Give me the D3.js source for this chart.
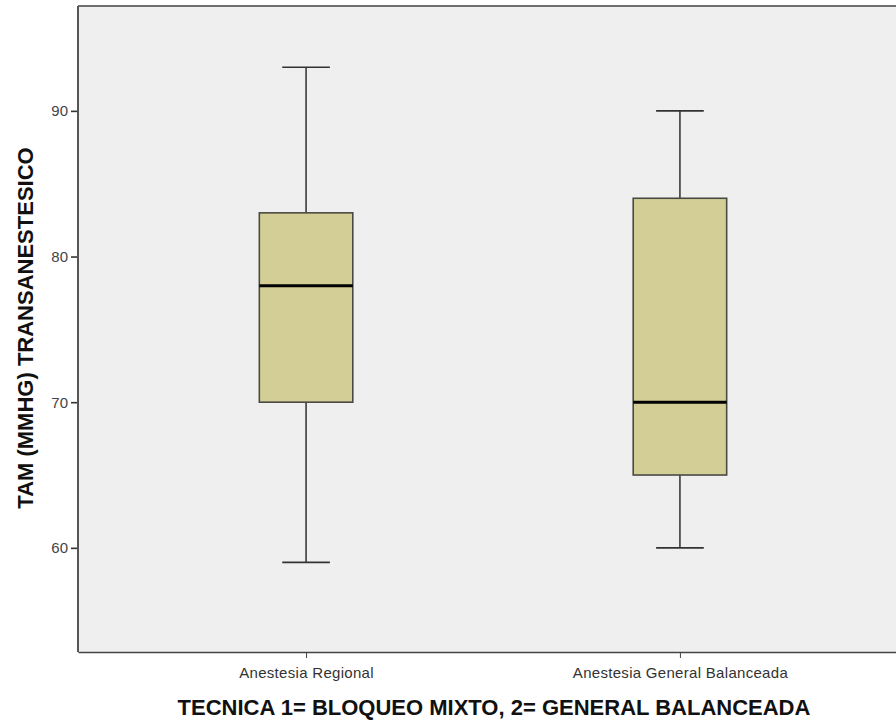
<!DOCTYPE html>
<html>
<head>
<meta charset="utf-8">
<script src="https://cdn.jsdelivr.net/npm/d3@7"></script>
<style>
  html, body { margin: 0; padding: 0; background: #ffffff; }
  svg { display: block; font-family: Arial, "Liberation Sans", sans-serif; }
</style>
</head>
<body>
<svg id="chart" width="896" height="724"></svg>
<script>
// Box plot summaries per technique
const categories = ["Anestesia Regional", "Anestesia General Balanceada"];
const whiskerLow  = [59, 60];
const q1          = [70, 65];
const median      = [78, 70];
const q3          = [83, 84];
const whiskerHigh = [93, 90];
const yTicks      = [60, 70, 80, 90];

const svg = d3.select("#chart");
const plot = { left: 78, right: 908, top: 6, bottom: 652 };

const y = d3.scaleLinear().domain([52.85, 97.2]).range([plot.bottom, plot.top]);
const x = d3.scalePoint().domain(categories).range([plot.left, plot.right]).padding(0.61);
const boxW = x.step() * 0.25;
const capW = boxW * 0.51;

// plot background
svg.append("rect")
  .attr("x", plot.left).attr("y", plot.top)
  .attr("width", plot.right - plot.left).attr("height", plot.bottom - plot.top)
  .attr("fill", "#efefef");

// top frame line
svg.append("line")
  .attr("x1", plot.left).attr("x2", plot.right)
  .attr("y1", plot.top).attr("y2", plot.top)
  .attr("stroke", "#707070").attr("stroke-width", 2.2);

const boxes = categories.map((c, i) => ({
  c, lo: whiskerLow[i], q1: q1[i], med: median[i], q3: q3[i], hi: whiskerHigh[i]
}));

const g = svg.append("g").selectAll("g").data(boxes).join("g");

// whiskers
g.append("line")
  .attr("x1", d => x(d.c)).attr("x2", d => x(d.c))
  .attr("y1", d => y(d.hi)).attr("y2", d => y(d.q3))
  .attr("stroke", "#222").attr("stroke-width", 1.4);
g.append("line")
  .attr("x1", d => x(d.c)).attr("x2", d => x(d.c))
  .attr("y1", d => y(d.q1)).attr("y2", d => y(d.lo))
  .attr("stroke", "#222").attr("stroke-width", 1.4);
// caps
g.append("line")
  .attr("x1", d => x(d.c) - capW / 2).attr("x2", d => x(d.c) + capW / 2)
  .attr("y1", d => y(d.hi)).attr("y2", d => y(d.hi))
  .attr("stroke", "#333").attr("stroke-width", 1.6);
g.append("line")
  .attr("x1", d => x(d.c) - capW / 2).attr("x2", d => x(d.c) + capW / 2)
  .attr("y1", d => y(d.lo)).attr("y2", d => y(d.lo))
  .attr("stroke", "#333").attr("stroke-width", 1.6);
// box
g.append("rect")
  .attr("x", d => x(d.c) - boxW / 2).attr("width", boxW)
  .attr("y", d => y(d.q3)).attr("height", d => y(d.q1) - y(d.q3))
  .attr("fill", "#d3cd96").attr("stroke", "#4a4a44").attr("stroke-width", 1.6);
// median
g.append("line")
  .attr("x1", d => x(d.c) - boxW / 2).attr("x2", d => x(d.c) + boxW / 2)
  .attr("y1", d => y(d.med)).attr("y2", d => y(d.med))
  .attr("stroke", "#000").attr("stroke-width", 3);

// y axis
const yAxis = svg.append("g")
  .attr("transform", `translate(${plot.left},0)`)
  .call(d3.axisLeft(y).tickValues(yTicks).tickSize(7).tickPadding(3).tickSizeOuter(0));
yAxis.select(".domain").remove();
svg.append("line")
  .attr("x1", plot.left).attr("x2", plot.left)
  .attr("y1", plot.top).attr("y2", plot.bottom)
  .attr("stroke", "#555").attr("stroke-width", 2);
yAxis.selectAll(".tick line").attr("stroke", "#333").attr("stroke-width", 1.6);
yAxis.selectAll(".tick text").attr("fill", "#444").attr("font-size", 15)
  .attr("font-family", "Arial, 'Liberation Sans', sans-serif");

// x axis
const xAxis = svg.append("g")
  .attr("transform", `translate(0,${plot.bottom})`)
  .call(d3.axisBottom(x).tickSize(6).tickSizeOuter(0));
xAxis.select(".domain").attr("stroke", "#444").attr("stroke-width", 1.6);
xAxis.selectAll(".tick line").attr("stroke", "#444");
xAxis.selectAll(".tick text")
  .attr("y", 26).attr("dy", 0)
  .attr("fill", "#333").attr("font-size", 15).attr("letter-spacing", 0.3)
  .attr("font-family", "Arial, 'Liberation Sans', sans-serif");

// axis titles
svg.append("text")
  .attr("x", 494).attr("y", 715)
  .attr("text-anchor", "middle")
  .attr("font-size", 22).attr("font-weight", "bold").attr("fill", "#111")
  .text("TECNICA 1= BLOQUEO MIXTO, 2= GENERAL BALANCEADA");

svg.append("text")
  .attr("transform", "translate(33,328) rotate(-90)")
  .attr("text-anchor", "middle")
  .attr("font-size", 22).attr("font-weight", "bold").attr("fill", "#111")
  .text("TAM (MMHG) TRANSANESTESICO");
</script>
</body>
</html>
